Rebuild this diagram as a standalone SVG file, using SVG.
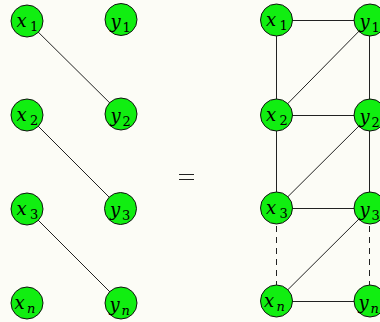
<svg xmlns="http://www.w3.org/2000/svg" width="380" height="322" viewBox="0 0 380 322">
<style>
.n{fill:#11ee11;stroke:#111;stroke-width:1}
.e{stroke:#222;stroke-width:1;fill:none}
.d{stroke:#222;stroke-width:1;stroke-dasharray:6,5;fill:none}
.t{font-family:"DejaVu Serif",serif;font-size:18px;fill:#000}
.v{font-style:italic}
.s{font-size:13px}
</style>
<rect width="380" height="322" fill="#fcfcf6"/>
<g id="connectors">
<line class="e" x1="27" y1="21" x2="121" y2="114"/>
<line class="e" x1="27" y1="115" x2="120.5" y2="208.5"/>
<line class="e" x1="27" y1="209" x2="121" y2="303"/>
<line class="e" x1="276.5" y1="20.5" x2="370" y2="20.5"/>
<line class="e" x1="276.5" y1="20" x2="276.5" y2="115"/>
<line class="e" x1="369.5" y1="20" x2="369.5" y2="115"/>
<line class="e" x1="370" y1="20" x2="276.5" y2="115"/>
<line class="e" x1="276.5" y1="115.5" x2="370" y2="115.5"/>
<line class="e" x1="276.5" y1="115" x2="276.5" y2="208"/>
<line class="e" x1="369.5" y1="115" x2="369.5" y2="208"/>
<line class="e" x1="370" y1="115" x2="276.5" y2="208"/>
<line class="e" x1="276.5" y1="208.5" x2="370" y2="208.5"/>
<line class="d" x1="276.5" y1="226" x2="276.5" y2="285"/>
<line class="d" x1="369.5" y1="226" x2="369.5" y2="285"/>
<line class="e" x1="370" y1="208" x2="276.5" y2="301"/>
<line class="e" x1="276.5" y1="301.5" x2="370" y2="301.5"/>
</g>
<g id="eq"><line class="e" x1="179" y1="174.5" x2="194" y2="174.5"/><line class="e" x1="179" y1="179.5" x2="194" y2="179.5"/></g>
<g id="Lx1"><circle class="n" cx="27" cy="21" r="16"/><text class="t"><tspan class="v" x="16.5" y="27">x</tspan><tspan class="s" x="30" y="31">1</tspan></text></g>
<g id="Ly1"><circle class="n" cx="121" cy="19.5" r="16"/><text class="t"><tspan class="v" x="110.5" y="28">y</tspan><tspan class="s" x="122.5" y="32">1</tspan></text></g>
<g id="Lx2"><circle class="n" cx="27" cy="115" r="16"/><text class="t"><tspan class="v" x="16.5" y="121">x</tspan><tspan class="s" x="30" y="125">2</tspan></text></g>
<g id="Ly2"><circle class="n" cx="121" cy="114" r="16"/><text class="t"><tspan class="v" x="110.5" y="122">y</tspan><tspan class="s" x="122.5" y="126">2</tspan></text></g>
<g id="Lx3"><circle class="n" cx="27" cy="209" r="16"/><text class="t"><tspan class="v" x="16.5" y="215">x</tspan><tspan class="s" x="30" y="219">3</tspan></text></g>
<g id="Ly3"><circle class="n" cx="120.5" cy="208.5" r="16"/><text class="t"><tspan class="v" x="110" y="216">y</tspan><tspan class="s" x="122" y="220">3</tspan></text></g>
<g id="Lxn"><circle class="n" cx="27" cy="303" r="16"/><text class="t"><tspan class="v" x="14.5" y="309">x</tspan><tspan class="s v" x="27" y="313">n</tspan></text></g>
<g id="Lyn"><circle class="n" cx="121" cy="303" r="16"/><text class="t"><tspan class="v" x="109.5" y="311">y</tspan><tspan class="s v" x="121.5" y="315">n</tspan></text></g>
<g id="Rx1"><circle class="n" cx="276.5" cy="20" r="16"/><text class="t"><tspan class="v" x="266" y="26">x</tspan><tspan class="s" x="279.5" y="30">1</tspan></text></g>
<g id="Ry1"><circle class="n" cx="370" cy="20" r="16"/><text class="t"><tspan class="v" x="359.5" y="28">y</tspan><tspan class="s" x="371.5" y="32">1</tspan></text></g>
<g id="Rx2"><circle class="n" cx="276.5" cy="115" r="16"/><text class="t"><tspan class="v" x="266" y="121">x</tspan><tspan class="s" x="279.5" y="125">2</tspan></text></g>
<g id="Ry2"><circle class="n" cx="370" cy="115" r="16"/><text class="t"><tspan class="v" x="359.5" y="123">y</tspan><tspan class="s" x="371.5" y="127">2</tspan></text></g>
<g id="Rx3"><circle class="n" cx="276.5" cy="208" r="16"/><text class="t"><tspan class="v" x="266" y="214">x</tspan><tspan class="s" x="279.5" y="218">3</tspan></text></g>
<g id="Ry3"><circle class="n" cx="370" cy="208" r="16"/><text class="t"><tspan class="v" x="359.5" y="216">y</tspan><tspan class="s" x="371.5" y="220">3</tspan></text></g>
<g id="Rxn"><circle class="n" cx="276.5" cy="301" r="16"/><text class="t"><tspan class="v" x="264" y="307">x</tspan><tspan class="s v" x="276.5" y="311">n</tspan></text></g>
<g id="Ryn"><circle class="n" cx="370" cy="301" r="16"/><text class="t"><tspan class="v" x="358.5" y="309">y</tspan><tspan class="s v" x="370.5" y="313">n</tspan></text></g>
</svg>
